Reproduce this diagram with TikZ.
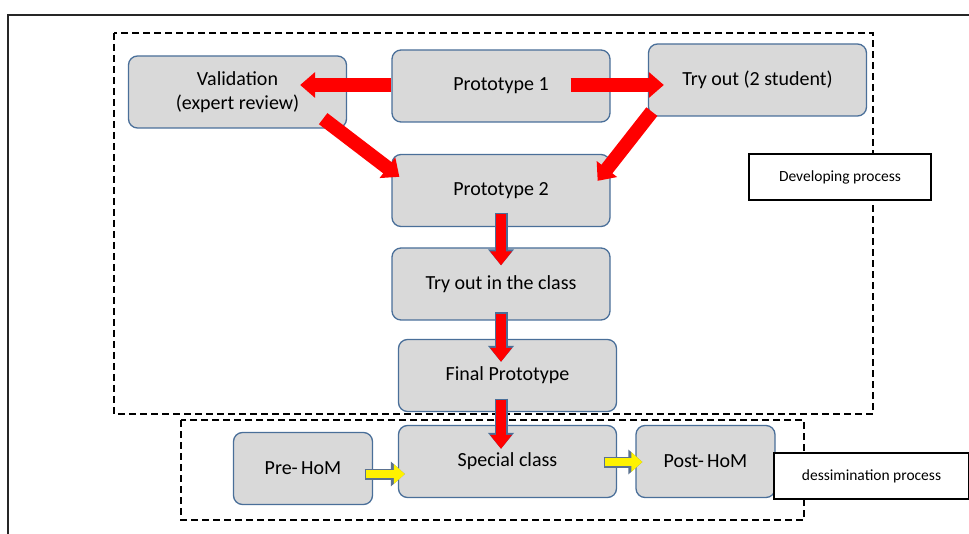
\documentclass[tikz,border=0pt]{standalone}
\usepackage{fontspec}
\setmainfont{Carlito}
\usetikzlibrary{arrows.meta}

\definecolor{boxgray}{HTML}{D9D9D9}
\definecolor{boxblue}{HTML}{4A6F99}
\definecolor{tipgray}{HTML}{5B7290}

\tikzset{
  stage/.style={draw=boxblue, line width=1.3pt, fill=boxgray, rounded corners=9pt,
    minimum width=218pt, minimum height=72pt, align=center,
    font=\fontsize{20}{24}\selectfont},
  smallstage/.style={stage, minimum width=139pt},
  tag/.style={draw, line width=1.3pt, fill=white, minimum height=46pt,
    font=\fontsize{15.5}{18}\selectfont},
  frame/.style={draw, line width=1.3pt, dash pattern=on 7pt off 4pt},
  redarrow/.style={draw=red, line width=14pt, -{Triangle[length=15pt,width=25pt]}},
  bluered/.style={draw=red, line width=10pt, -{Triangle[length=14pt,width=21pt]},
    preaction={draw=boxblue, line width=13pt, shorten <=-1.5pt,
      -{Triangle[length=16pt,width=25pt]}}},
  yellowarrow/.style={draw=yellow, line width=8pt, -{Triangle[length=11pt,width=19pt]},
    preaction={draw=tipgray, line width=11pt, shorten <=-1.5pt,
      -{Triangle[length=14pt,width=24pt]}}}
}

\begin{document}
\begin{tikzpicture}[x=1pt, y=-1pt]
  \useasboundingbox (0,0) rectangle (969,534);
  % outer frame
  \draw[line width=1.5pt, black!85] (969,15) -- (8,15) -- (8,534);
  % dashed frames
  \draw[frame] (114,33) rectangle (873,414);
  \draw[frame] (181,420) rectangle (804,520);

  % developing process
  \node[stage] (val) at (237.5,92) {Validation\\(expert review)};
  \node[stage] (p1) at (501,86) {Prototype 1};
  \node[stage] (try) at (757.5,80) {Try out (2 student)};
  \node[stage] (p2) at (501,190.5) {Prototype 2};
  \node[stage] (tc) at (501,284) {Try out in the class};
  \node[stage] (fp) at (507.5,375.5) {Final Prototype};

  % dessimination process
  \node[stage] (sc) at (507.5,461.5) {Special class};
  \node[smallstage] (pre) at (303,468.5) {Pre-\,HoM};
  \node[smallstage] (post) at (705.5,461.5) {Post-\,HoM};

  \node[tag, minimum width=182pt] (dev) at (840,177) {Developing process};
  \node[tag, minimum width=195pt] (dis) at (871.5,476) {dessimination process};

  % connectors
  \draw[redarrow] ([shift={(0,-1)}]p1.west) -- ([shift={(-47,-7)}]val.east);
  \draw[redarrow] ([shift={(-40,-1)}]p1.east) -- ([shift={(16,5)}]try.west);
  \draw[redarrow] ([shift={(-24,-10)}]val.south east) -- ([shift={(8,23)}]p2.north west);
  \draw[redarrow] ([shift={(4,-5)}]try.south west) -- ([shift={(-13,27)}]p2.north east);
  \draw[bluered] ([shift={(0,-13)}]p2.south) -- ([shift={(0,18)}]tc.north);
  \draw[bluered] ([shift={(0,-7)}]tc.south) -- ([shift={(-6.5,23)}]fp.north);
  \draw[bluered] ([shift={(-6.5,-12)}]fp.south) -- ([shift={(-6.5,24)}]sc.north);
  \draw[yellowarrow] ([shift={(-7,5.5)}]pre.east) -- ([shift={(7,12.5)}]sc.west);
  \draw[yellowarrow] ([shift={(-12,0.5)}]sc.east) -- ([shift={(7,0.5)}]post.west);
\end{tikzpicture}
\end{document}
